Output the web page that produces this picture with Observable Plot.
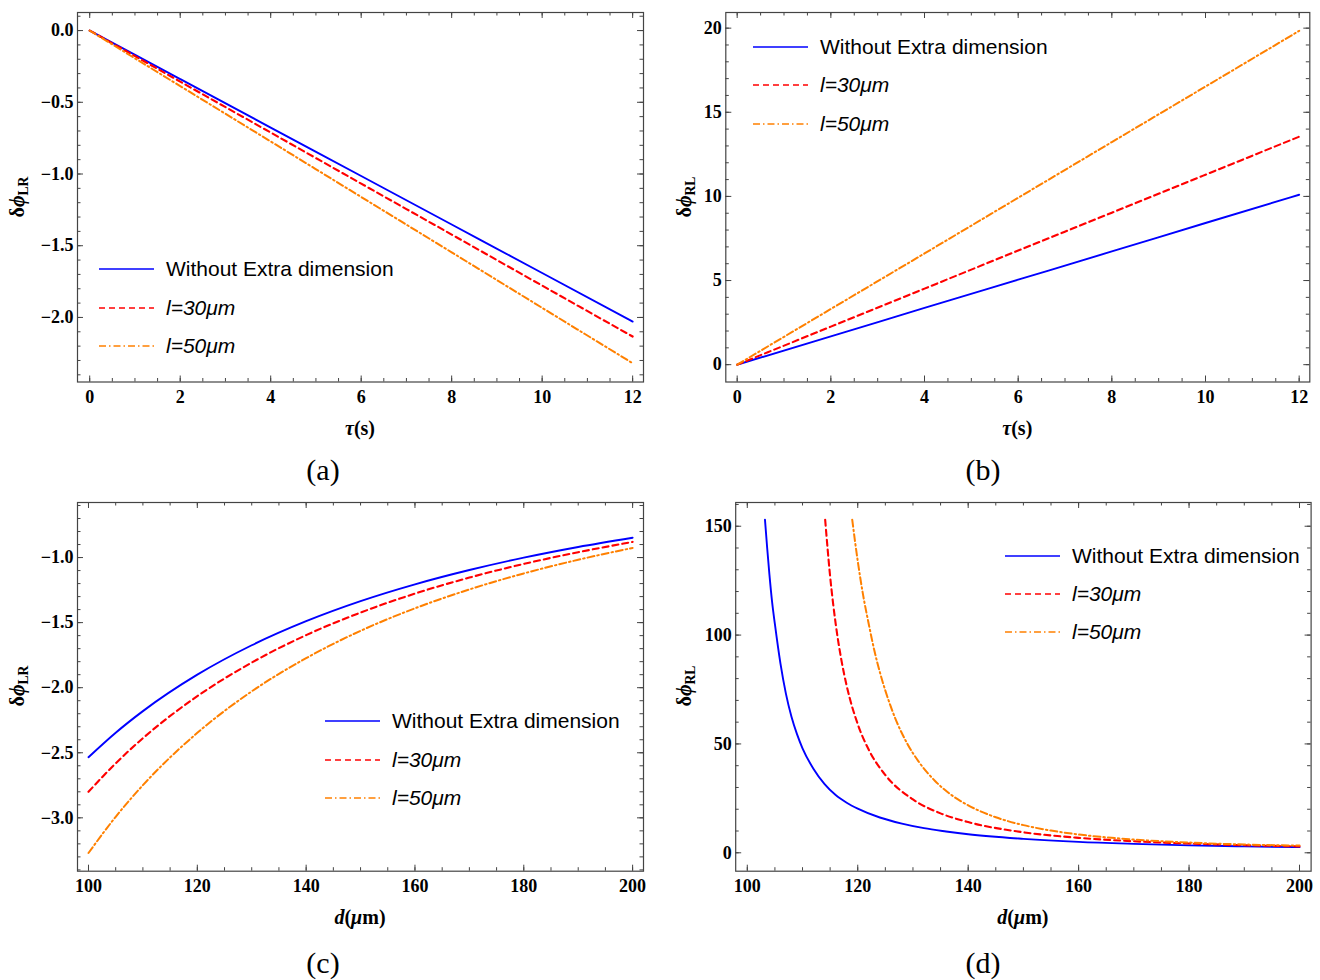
<!DOCTYPE html>
<html>
<head>
<meta charset="utf-8">
<script src="https://cdn.jsdelivr.net/npm/d3@7"></script>
<script src="https://cdn.jsdelivr.net/npm/@observablehq/plot@0.6"></script>
<style>
  body { margin: 0; background: #fff; }
  #wrap { position: relative; width: 1320px; height: 980px; overflow: hidden; background: #fff; }
  .panel { position: absolute; }
  .lbl { position: absolute; font-family: "Liberation Serif", "Times New Roman", serif; font-weight: bold; white-space: nowrap; transform: translate(-50%, -50%); color: #000; }
  .ylbl { transform: translate(-50%, -50%) rotate(-90deg); }
  .lbl sub { font-size: 0.68em; vertical-align: -0.25em; }
  .cap { position: absolute; font-family: "Liberation Serif", "Times New Roman", serif; font-size: 30px; transform: translate(-50%, -50%); white-space: nowrap; }
  .leg { position: absolute; display: flex; align-items: center; height: 24px; font-family: "Liberation Sans", Arial, sans-serif; font-size: 21px; white-space: nowrap; color: #000; }
  .leg svg { display: block; }
</style>
</head>
<body>
<div id="wrap"></div>
<script>
// ---------------- data ----------------
// panel (a): delta phi_LR vs tau
const tauValues = [0, 2, 4, 6, 8, 10, 12];
const lrTauNoExtra = [0, -0.338, -0.676, -1.014, -1.352, -1.690, -2.029];
const lrTau30 = [0, -0.356, -0.711, -1.067, -1.422, -1.778, -2.133];
const lrTau50 = [0, -0.387, -0.773, -1.160, -1.546, -1.933, -2.319];

// panel (b): delta phi_RL vs tau
const rlTauNoExtra = [0, 1.68, 3.37, 5.05, 6.73, 8.42, 10.10];
const rlTau30 = [0, 2.26, 4.52, 6.78, 9.03, 11.29, 13.55];
const rlTau50 = [0, 3.31, 6.61, 9.92, 13.23, 16.53, 19.84];

// panel (c): delta phi_LR vs d
const dValues = [100, 105, 110, 120, 130, 140, 150, 160, 170, 180, 190, 200];
const lrDNoExtra = [-2.534, -2.346, -2.180, -1.900, -1.674, -1.489, -1.335, -1.206, -1.096, -1.001, -0.919, -0.848];
const lrD30 = [-2.800, -2.581, -2.388, -2.065, -1.807, -1.596, -1.423, -1.277, -1.154, -1.049, -0.959, -0.880];
const lrD50 = [-3.270, -2.992, -2.749, -2.347, -2.028, -1.773, -1.563, -1.390, -1.245, -1.122, -1.017, -0.926];

// panel (d): delta phi_RL vs d
const dNoExtra = [103.2, 103.6, 104, 104.5, 105, 106, 107, 108, 109, 110, 112, 114, 116, 118, 120, 124, 128, 132, 136, 140, 150, 160, 170, 180, 190, 200];
const rlDNoExtra = [153, 140, 128, 115, 105, 87, 73, 62.5, 54.5, 48, 38.5, 31.5, 26.5, 23, 20.3, 16.2, 13.4, 11.3, 9.8, 8.5, 6.4, 5.0, 4.1, 3.4, 2.95, 2.6];
const d30 = [114.1, 115, 116, 117, 118, 120, 122, 125, 130, 135, 140, 150, 160, 170, 180, 190, 200];
const rlD30 = [153, 127, 105.3, 89.1, 76.7, 59.1, 47.3, 35.7, 24.5, 18.1, 14.1, 9.42, 6.86, 5.28, 4.23, 3.48, 2.93];
const d50 = [119, 120, 121, 122, 123, 124, 125, 127, 129, 131, 134, 137, 140, 145, 150, 155, 160, 170, 180, 190, 200];
const rlD50 = [153, 134, 118, 105, 93, 83, 74.5, 60.5, 50, 42, 33, 26.5, 21.8, 16.3, 12.7, 10.2, 8.4, 6.1, 4.7, 3.8, 3.3];

// tick labels
const tauTicks = [0, 2, 4, 6, 8, 10, 12];
const dTicks = [100, 120, 140, 160, 180, 200];
const lrTauTicks = [0, -0.5, -1.0, -1.5, -2.0];
const rlTauTicks = [0, 5, 10, 15, 20];
const lrDTicks = [-1.0, -1.5, -2.0, -2.5, -3.0];
const rlDTicks = [0, 50, 100, 150];

const seriesNames = ["Without Extra dimension", "l=30μm", "l=50μm"];

// ---------------- styling ----------------
const styles = [
  {color: "#0000ff", width: 1.9, dash: null, legDash: null},
  {color: "#ff0000", width: 2.1, dash: "6,4", legDash: "6,4"},
  {color: "#ff8000", width: 2, dash: "7,3,1.5,3", legDash: "7,3,1.5,3"}
];

const W = 660, H = 440;
const wrap = document.getElementById("wrap");
const axisFont = {fontSize: 18, fontWeight: "bold", fontFamily: "Liberation Serif, Times New Roman, serif", fill: "#000"};

function zipXY(xs, ys) { return xs.map((x, i) => ({x, y: ys[i]})); }
function steps(a, b, s) { const n = Math.round((b - a) / s); return d3.range(n + 1).map(i => +(a + i * s).toFixed(4)); }

function makePanel(p) {
  const innerW = W - p.mL - p.mR, innerH = H - p.mT - p.mB;
  const tk = "#444";
  const ticks = (xs, ys, len) => [
    Plot.tickX(xs, {x: d => d, insetTop: innerH - len, stroke: tk, strokeWidth: 1}),
    Plot.tickX(xs, {x: d => d, insetBottom: innerH - len, stroke: tk, strokeWidth: 1}),
    Plot.tickY(ys, {y: d => d, insetRight: innerW - len, stroke: tk, strokeWidth: 1}),
    Plot.tickY(ys, {y: d => d, insetLeft: innerW - len, stroke: tk, strokeWidth: 1})
  ];
  const marks = [
    ...p.series.map((s, i) => Plot.line(s, {
      x: "x", y: "y", stroke: styles[i].color, strokeWidth: styles[i].width,
      strokeDasharray: styles[i].dash, curve: "monotone-x", clip: true
    })),
    ...ticks(p.xMinor, p.yMinor, 3.5),
    ...ticks(p.xMajor, p.yMajor, 6),
    Plot.frame({stroke: "#444", strokeWidth: 1.2}),
    Plot.axisX(p.xMajor, {anchor: "bottom", tickSize: 0, tickPadding: 8, tickFormat: p.xFmt, label: null, ...axisFont}),
    Plot.axisY(p.yMajor, {anchor: "left", tickSize: 0, tickPadding: 4, tickFormat: p.yFmt, label: null, ...axisFont})
  ];
  const chart = Plot.plot({
    width: W, height: H,
    marginLeft: p.mL, marginRight: p.mR, marginTop: p.mT, marginBottom: p.mB,
    x: {domain: p.xDomain},
    y: {domain: p.yDomain},
    style: {background: "transparent", fontFamily: "Liberation Serif, serif", fontSize: "18px", fontWeight: "bold", color: "#000"},
    marks
  });
  chart.classList.add("panel");
  chart.style.left = p.left + "px";
  chart.style.top = p.top + "px";
  wrap.appendChild(chart);

  // axis labels
  const xl = document.createElement("div");
  xl.className = "lbl";
  xl.innerHTML = p.xLabel;
  xl.style.fontSize = "20px";
  xl.style.left = (p.left + p.mL + innerW / 2) + "px";
  xl.style.top = (p.top + H - p.mB + 46) + "px";
  wrap.appendChild(xl);

  const yl = document.createElement("div");
  yl.className = "lbl ylbl";
  yl.innerHTML = p.yLabel;
  yl.style.fontSize = "20px";
  yl.style.left = (p.left + p.yLabelX) + "px";
  yl.style.top = (p.top + p.mT + innerH / 2) + "px";
  wrap.appendChild(yl);

  // caption
  const cap = document.createElement("div");
  cap.className = "cap";
  cap.textContent = p.caption;
  cap.style.left = (p.left + 323) + "px";
  cap.style.top = (p.top + p.capY) + "px";
  wrap.appendChild(cap);

  // legend
  seriesNames.forEach((name, i) => {
    const row = document.createElement("div");
    row.className = "leg";
    row.style.left = p.leg.x + "px";
    row.style.top = (p.leg.y + i * p.leg.dy - 12) + "px";
    const sw = styles[i];
    const label = i === 0 ? name : `<i>${name}</i>`;
    row.innerHTML = `<svg width="56" height="10"><line x1="0" y1="5" x2="55" y2="5" stroke="${sw.color}" stroke-width="1.3" ${sw.legDash ? `stroke-dasharray="${sw.legDash}"` : ""}/></svg><span style="margin-left:11px">${label}</span>`;
    wrap.appendChild(row);
  });
}

const fmt1 = d3.format(".1f");
const fmtInt = d3.format("d");
const yLR = `δ<i>ϕ</i><sub>LR</sub>`;
const yRL = `δ<i>ϕ</i><sub>RL</sub>`;
const xTau = `<i>τ</i>(s)`;
const xD = `<i>d</i>(<i>μ</i>m)`;

makePanel({
  left: 0, top: 0, mL: 77, mR: 17, mT: 12, mB: 58.5,
  xDomain: [-0.27, 12.24], yDomain: [-2.45, 0.126],
  xMajor: tauTicks, xMinor: steps(0, 12, 0.5),
  yMajor: lrTauTicks, yMinor: steps(-2.4, 0.1, 0.1),
  xFmt: fmtInt, yFmt: fmt1,
  series: [zipXY(tauValues, lrTauNoExtra), zipXY(tauValues, lrTau30), zipXY(tauValues, lrTau50)],
  xLabel: xTau, yLabel: yLR, yLabelX: 19, caption: "(a)", capY: 470,
  leg: {x: 99, y: 269, dy: 38.7}
});

makePanel({
  left: 660, top: 0, mL: 65.3, mR: 10.7, mT: 12, mB: 58.5,
  xDomain: [-0.243, 12.227], yDomain: [-1.03, 20.93],
  xMajor: tauTicks, xMinor: steps(0, 12, 0.5),
  yMajor: rlTauTicks, yMinor: steps(0, 20, 1),
  xFmt: fmtInt, yFmt: fmtInt,
  series: [zipXY(tauValues, rlTauNoExtra), zipXY(tauValues, rlTau30), zipXY(tauValues, rlTau50)],
  xLabel: xTau, yLabel: yRL, yLabelX: 26, caption: "(b)", capY: 470,
  leg: {x: 753, y: 46.5, dy: 38.5}
});

makePanel({
  left: 0, top: 490, mL: 77, mR: 17, mT: 12, mB: 59.3,
  xDomain: [97.98, 202.0], yDomain: [-3.41, -0.577],
  xMajor: dTicks, xMinor: steps(100, 200, 5),
  yMajor: lrDTicks, yMinor: steps(-3.4, -0.6, 0.1),
  xFmt: fmtInt, yFmt: fmt1,
  series: [zipXY(dValues, lrDNoExtra), zipXY(dValues, lrD30), zipXY(dValues, lrD50)],
  xLabel: xD, yLabel: yLR, yLabelX: 19, caption: "(c)", capY: 473,
  leg: {x: 325, y: 720.7, dy: 38.8}
});

makePanel({
  left: 660, top: 490, mL: 75.2, mR: 9.4, mT: 12, mB: 59.3,
  xDomain: [97.9, 202.1], yDomain: [-8.46, 160.9],
  xMajor: dTicks, xMinor: steps(100, 200, 5),
  yMajor: rlDTicks, yMinor: steps(0, 160, 10),
  xFmt: fmtInt, yFmt: fmtInt,
  series: [zipXY(dNoExtra, rlDNoExtra), zipXY(d30, rlD30), zipXY(d50, rlD50)],
  xLabel: xD, yLabel: yRL, yLabelX: 26, caption: "(d)", capY: 473,
  leg: {x: 1005, y: 555.7, dy: 38.3}
});
</script>
</body>
</html>
